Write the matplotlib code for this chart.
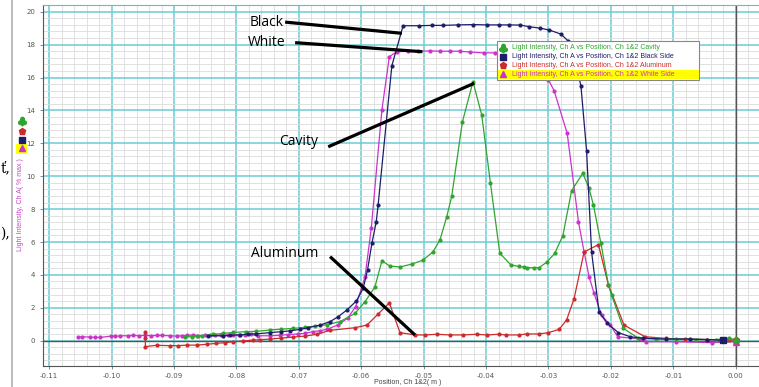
import matplotlib
matplotlib.use("Agg")
import matplotlib.pyplot as plt
from matplotlib.lines import Line2D
from matplotlib.patches import Rectangle
from matplotlib.ticker import MultipleLocator

# ---- data (position in m, light intensity in % max) ----
white_x = [-0.1054, -0.1047, -0.1035, -0.1027, -0.1018, -0.1001, -0.0994, -0.0986, -0.0974,
           -0.0966, -0.0956, -0.0946, -0.0937, -0.0928, -0.0920, -0.0907, -0.0896, -0.0888,
           -0.0880, -0.0870, -0.0862, -0.0850, -0.0842, -0.0834, -0.0825, -0.0814, -0.0806,
           -0.0796, -0.0787, -0.0777, -0.0765, -0.0746, -0.0730, -0.0717, -0.0701, -0.0690,
           -0.0677, -0.0666, -0.0655, -0.0638, -0.0622, -0.0609, -0.0594, -0.0584, -0.0567,
           -0.0555, -0.0543, -0.0525, -0.0509, -0.0490, -0.0474, -0.0458, -0.0442, -0.0426,
           -0.0404, -0.0386, -0.0367, -0.0350, -0.0330, -0.0315, -0.0300, -0.0291, -0.0270,
           -0.0252, -0.0243, -0.0235, -0.0227, -0.0215, -0.0201, -0.0189, -0.0153, -0.0143,
           -0.0095, -0.0038, -0.0001, 0.0]
white_y = [0.22, 0.24, 0.22, 0.20, 0.20, 0.28, 0.26, 0.30, 0.30,
           0.32, 0.30, 0.33, 0.30, 0.32, 0.32, 0.30, 0.28, 0.30,
           0.32, 0.34, 0.30, 0.33, 0.34, 0.32, 0.34, 0.35, 0.36,
           0.35, 0.36, 0.38, 0.30, 0.30, 0.33, 0.37, 0.41, 0.45,
           0.55, 0.61, 0.69, 0.95, 1.36, 2.07, 3.89, 6.83, 14.02,
           17.27, 17.57, 17.60, 17.60, 17.62, 17.60, 17.60, 17.60, 17.55,
           17.50, 17.50, 17.48, 17.40, 17.10, 16.60, 15.85, 15.20, 12.60,
           7.23, 5.41, 3.89, 2.88, 1.56, 0.95, 0.24, 0.10, -0.06,
           -0.06, -0.12, -0.06, -0.10]

black_x = [-0.0845, -0.0822, -0.0810, -0.0794, -0.0781, -0.0768, -0.0746, -0.0728, -0.0714,
           -0.0698, -0.0685, -0.0666, -0.0650, -0.0637, -0.0623, -0.0608, -0.0597, -0.0590,
           -0.0583, -0.0576, -0.0573, -0.0551, -0.0533, -0.0507, -0.0487, -0.0469, -0.0445,
           -0.0421, -0.0399, -0.0380, -0.0364, -0.0345, -0.0331, -0.0313, -0.0299, -0.0280,
           -0.0269, -0.0258, -0.0248, -0.0239, -0.0231, -0.0219, -0.0206, -0.0188, -0.0169,
           -0.0148, -0.0111, -0.0073, -0.0046, -0.0020]
black_y = [0.30, 0.30, 0.32, 0.36, 0.40, 0.42, 0.49, 0.55, 0.60,
           0.69, 0.79, 0.95, 1.16, 1.46, 1.87, 2.41, 3.18, 4.30,
           5.92, 7.23, 8.25, 16.72, 19.15, 19.15, 19.17, 19.17, 19.20,
           19.22, 19.20, 19.20, 19.20, 19.19, 19.09, 19.00, 18.89, 18.64,
           18.24, 17.20, 15.48, 11.55, 5.41, 1.74, 1.06, 0.49, 0.24,
           0.15, 0.10, 0.10, 0.07, 0.03]

cavity_x = [-0.0883, -0.0872, -0.0864, -0.0856, -0.0837, -0.0821, -0.0805, -0.0784, -0.0768,
            -0.0746, -0.0728, -0.0709, -0.0690, -0.0674, -0.0655, -0.0634, -0.0610, -0.0594,
            -0.0578, -0.0567, -0.0554, -0.0538, -0.0519, -0.0501, -0.0485, -0.0474, -0.0463,
            -0.0455, -0.0438, -0.0421, -0.0407, -0.0393, -0.0378, -0.0360, -0.0348, -0.0340,
            -0.0335, -0.0324, -0.0315, -0.0302, -0.0290, -0.0277, -0.0263, -0.0245, -0.0235,
            -0.0228, -0.0216, -0.0204, -0.0199, -0.0180, -0.0156, -0.0127, -0.0095, -0.0063,
            -0.0031, -0.0010, 0.0]
cavity_y = [0.24, 0.24, 0.28, 0.30, 0.38, 0.45, 0.50, 0.55, 0.57,
            0.65, 0.70, 0.75, 0.81, 0.89, 0.97, 1.16, 1.66, 2.37,
            3.28, 4.85, 4.54, 4.48, 4.66, 4.90, 5.41, 6.12, 7.54,
            8.80, 13.30, 15.74, 13.72, 9.57, 5.31, 4.60, 4.52, 4.48,
            4.44, 4.44, 4.44, 4.80, 5.31, 6.39, 9.12, 10.18, 9.26,
            8.25, 5.92, 3.39, 2.78, 0.75, 0.15, 0.10, 0.10, 0.07,
            0.07, 0.15, 0.05]

alu_x = [-0.0946, -0.0946, -0.0946, -0.0928, -0.0907, -0.0893, -0.0880, -0.0864, -0.0848,
         -0.0832, -0.0818, -0.0805, -0.0789, -0.0773, -0.0762, -0.0746, -0.0728, -0.0709,
         -0.0690, -0.0671, -0.0650, -0.0610, -0.0591, -0.0573, -0.0555, -0.0538, -0.0514,
         -0.0498, -0.0479, -0.0458, -0.0437, -0.0415, -0.0399, -0.0380, -0.0368, -0.0348,
         -0.0335, -0.0316, -0.0300, -0.0283, -0.0271, -0.0259, -0.0243, -0.0220, -0.0204,
         -0.0179, -0.0145, -0.0111, -0.0082, -0.0046, -0.0010, 0.0]
alu_y = [0.50, 0.15, -0.36, -0.28, -0.30, -0.30, -0.27, -0.27, -0.22,
         -0.16, -0.12, -0.06, -0.02, 0.04, 0.06, 0.10, 0.16, 0.22,
         0.28, 0.39, 0.63, 0.79, 0.95, 1.62, 2.30, 0.49, 0.35,
         0.35, 0.39, 0.35, 0.35, 0.39, 0.35, 0.39, 0.35, 0.35,
         0.41, 0.41, 0.49, 0.69, 1.26, 2.56, 5.39, 5.84, 3.39,
         0.95, 0.24, 0.14, 0.10, 0.07, 0.04, 0.02]

series = [
    ("Light Intensity, Ch A vs Position, Ch 1&2 Cavity", cavity_x, cavity_y, "#2ea52e", "$\u2663$"),
    ("Light Intensity, Ch A vs Position, Ch 1&2 Black Side", black_x, black_y, "#1d1d6b", "s"),
    ("Light Intensity, Ch A vs Position, Ch 1&2 Aluminum", alu_x, alu_y, "#cc2b2b", "p"),
    ("Light Intensity, Ch A vs Position, Ch 1&2 White Side", white_x, white_y, "#cc33cc", "^"),
]
draw_order = [3, 2, 0, 1]
side_order = [0, 2, 1, 3]  # the little key left of the axis

W, H = 759, 387
fig = plt.figure(figsize=(W / 100, H / 100), dpi=100)
ax = fig.add_axes([43 / W, 1 - 365.7 / H, (W - 43) / W, (365.7 - 5) / H])

def fx(px):
    return px / W

def fy(py):
    return 1 - py / H

# grid
ax.set_xlim(-0.1110, 0.00373)
ax.set_ylim(-1.52, 20.41)
ax.xaxis.set_major_locator(MultipleLocator(0.01))
ax.xaxis.set_minor_locator(MultipleLocator(0.002))
ax.yaxis.set_major_locator(MultipleLocator(2))
ax.yaxis.set_minor_locator(MultipleLocator(0.4))
ax.grid(which="minor", color="#dcdcdc", lw=0.6, zorder=0)
ax.grid(which="major", color="#6cccd3", lw=1.1, zorder=0)
ax.set_axisbelow(True)
ax.axhline(0, color="#555555", lw=1.0, zorder=1)
ax.axvline(0, color="#555555", lw=1.0, zorder=1)

ax.set_yticks(range(0, 21, 2))
ax.tick_params(which="major", labelsize=5, colors="#777777", labelcolor="#555555",
               length=2.5, width=0.6, pad=3)
ax.tick_params(which="minor", length=0)
ax.set_xticklabels([f"{v:.2f}" for v in ax.get_xticks()])
for s in ["left", "bottom"]:
    ax.spines[s].set_color("#555555")
ax.spines["top"].set_color("#7fb3b8")
ax.spines["right"].set_visible(False)

# data lines
for i in draw_order:
    name, xs, ys, col, mk = series[i]
    ax.plot(xs, ys, color=col, lw=0.9, marker="o", ms=2.0, zorder=3)
    ax.plot(xs[-1:], ys[-1:], color=col, marker=mk, ms=4.5, ls="none", zorder=4)

# annotations
notes = [
    ("Black", (-0.0779, 19.37), (-0.0722, 19.37), (-0.0535, 18.69)),
    ("White", (-0.0782, 18.13), (-0.0706, 18.12), (-0.0502, 17.57)),
    ("Cavity", (-0.0732, 12.14), (-0.0653, 11.79), (-0.0419, 15.65)),
    ("Aluminum", (-0.0776, 5.33), (-0.0650, 5.11), (-0.0514, 0.35)),
]
for label, tpos, p0, p1 in notes:
    ax.text(tpos[0], tpos[1], label, fontsize=10, family="Open Sans",
            ha="left", va="center", color="black", zorder=6)
    ax.plot([p0[0], p1[0]], [p0[1], p1[1]], color="black", lw=2.3,
            solid_capstyle="butt", zorder=6)

# legend box
fig.patches.append(Rectangle((fx(497), fy(79.5)), fx(202), 38.5 / H,
                             transform=fig.transFigure, fc="white", ec="#888888",
                             lw=0.8, zorder=10))
fig.patches.append(Rectangle((fx(498), fy(78.7)), fx(200.5), 8.7 / H,
                             transform=fig.transFigure, fc="#ffff00", ec="none",
                             zorder=11))
rows = [47.7, 56.7, 65.3, 74.0]
for (name, xs, ys, col, mk), py in zip(series, rows):
    fig.add_artist(Line2D([fx(503.3)], [fy(py)], marker=mk, color=col,
                          ms=4.5 if mk != "$\u2663$" else 6, ls="none", zorder=12))
    fig.text(fx(511.5), fy(py), name, fontsize=5.0, family="Liberation Sans",
             color=col, va="center", ha="left", zorder=12)

# left margin: mini legend, y label, page fragments
fig.patches.append(Rectangle((fx(10.8), 0), fx(2.2), 1, transform=fig.transFigure,
                             fc="#bdbdbd", ec="none"))
fig.patches.append(Rectangle((fx(16), fy(153.5)), fx(11), 10 / H,
                             transform=fig.transFigure, fc="#ffff00", ec="none"))
for i, py in zip(side_order, [121.3, 131.0, 139.5, 148.3]):
    name, xs, ys, col, mk = series[i]
    fig.add_artist(Line2D([fx(21.7)], [fy(py)], marker=mk, color=col,
                          ms=4.5 if mk != "$\u2663$" else 6, ls="none"))
fig.text(fx(21), fy(205), "Light Intensity, Ch A( % max )", rotation=90,
         fontsize=5.0, family="Liberation Sans", color="#cc44cc", ha="center", va="center")
fig.text(fx(408), fy(382), "Position, Ch 1&2( m )", fontsize=5.0,
         family="Liberation Sans", color="#444444", ha="center", va="center")
fig.text(fx(0.5), fy(168), "\u0165,", fontsize=10, family="DejaVu Serif", va="center", ha="left")
fig.text(fx(0.5), fy(234), "),", fontsize=10, family="DejaVu Serif", va="center", ha="left")

fig.savefig("out.png", dpi=100)
